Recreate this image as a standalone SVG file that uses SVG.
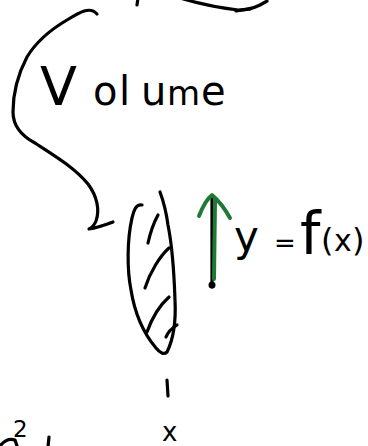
<svg xmlns="http://www.w3.org/2000/svg" width="368" height="446" viewBox="0 0 368 446">
<style>
.ink{fill:none;stroke:#000;stroke-width:3.2;stroke-linecap:round;stroke-linejoin:round}
.green{fill:none;stroke:#1e7a32;stroke-width:4;stroke-linecap:round;stroke-linejoin:round}
.hand{font-family:"DejaVu Sans","Liberation Sans",sans-serif;fill:#000}
</style>
<rect width="368" height="446" fill="#fff"/>
<g id="top-fragment">
  <path class="ink" d="M138,-2 L137,5"/>
  <path class="ink" d="M180,-2 C200,4 220,8 238,10 C246,10 254,8 260,5 L267,1"/>
  <path class="ink" d="M236,11 L250,9"/>
</g>
<g id="volume">
  <text class="hand" y="105" font-size="40"><tspan x="40" font-size="54">V</tspan><tspan x="93">o</tspan><tspan x="119">l</tspan><tspan x="141">u</tspan><tspan x="167" font-size="34">m</tspan><tspan x="201">e</tspan></text>
</g>
<g id="connectors">
  <path class="ink" d="M97,14 C90,6 80,12 67,20 C50,30 36,42 27,57 C17,76 13,95 13,112 C13,125 20,135 35,143 C55,156 75,168 88,184 C97,196 100,210 96,221 C94,226 91,228 89,229 C96,228 105,225 113,222"/>
</g>
<g id="slice">
  <path class="ink" d="M142,205 C136,204 134,210 132,218 C127,240 127,270 131,290 C135,315 145,335 156,348 C160,353 164,355 167,352 C173,340 176,320 175,300 C174,270 172,245 168,225 C166,210 163,200 160,192"/>
  <path class="ink" d="M158,215 C153,224 150,234 148,243"/>
  <path class="ink" d="M169,248 C160,256 150,272 145,288"/>
  <path class="ink" d="M169,297 C160,305 152,318 147,332"/>
  <path class="ink" d="M177,325 C172,328 168,332 166,337"/>
</g>
<g id="arrow">
  <path class="ink" d="M212,198 L212,287" stroke-width="4"/>
  <circle cx="212" cy="285" r="3.5" fill="#000"/>
  <path class="green" d="M215,201 L214,279"/>
  <path class="green" d="M199,216 C203,206 208,198 212,195 C218,200 225,209 230,218"/>
</g>
<g id="equation">
  <text class="hand" y="251"><tspan x="234" font-size="42">y</tspan><tspan x="274" font-size="26" y="252">=</tspan><tspan x="300" font-size="58" y="254">f</tspan><tspan x="321" font-size="32" y="251">(</tspan><tspan x="334" font-size="30">x</tspan><tspan x="352" font-size="32">)</tspan></text>
</g>
<g id="axis-label">
  <path class="ink" d="M167,380 L168,396"/>
  <text class="hand" x="162" y="441" font-size="26">x</text>
</g>
<g id="bottom-left-fragment">
  <path class="ink" d="M0,446 C4,441 9,438 15,440 L17,446"/>
  <text class="hand" x="13" y="437" font-size="23">2</text>
  <path class="ink" d="M49,437 L48,447"/>
</g>
</svg>
